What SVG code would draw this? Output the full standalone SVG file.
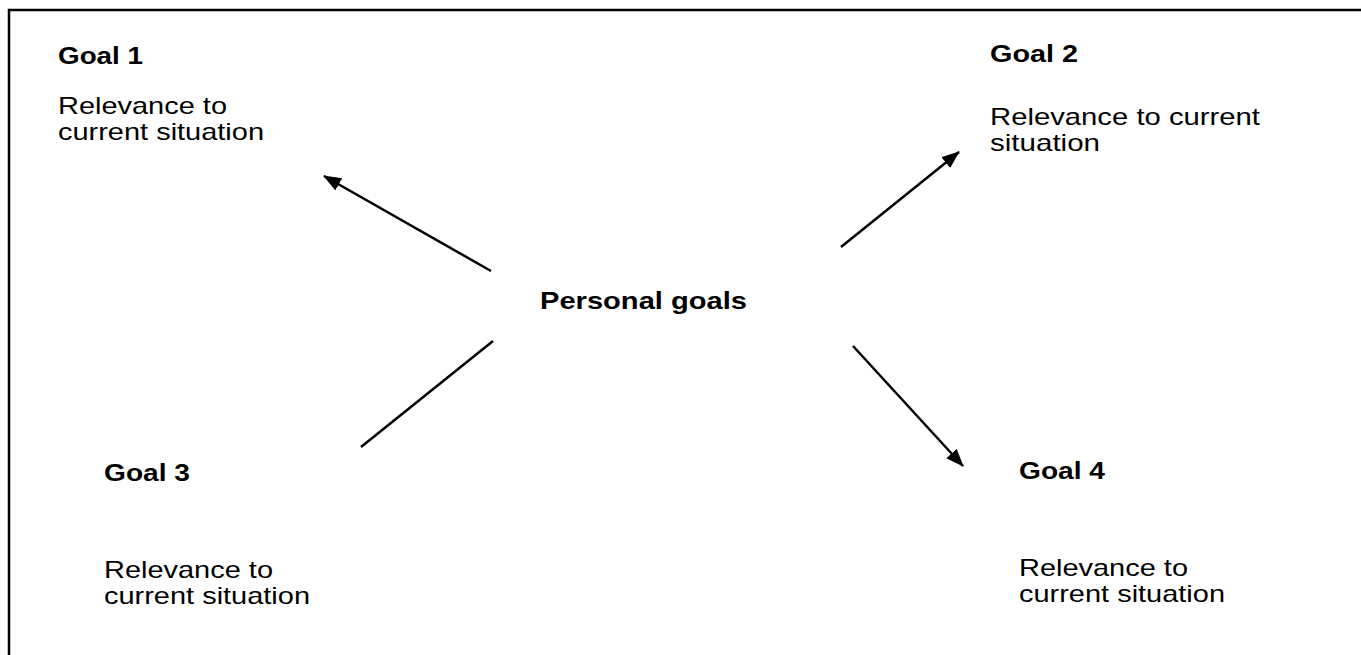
<svg xmlns="http://www.w3.org/2000/svg" width="1361" height="655" viewBox="0 0 1361 655">
<defs>
<style>
.t{font-family:"Liberation Sans",Arial,sans-serif;font-size:24px;fill:#000}
.b{font-weight:bold}
.c{stroke:#000;stroke-width:2.5;fill:none}
</style>
<marker id="ah" markerUnits="userSpaceOnUse" markerWidth="20" markerHeight="16" refX="17" refY="7" orient="auto" viewBox="0 0 20 16">
<path d="M0,0 L18,7 L0,14 z" fill="#000"/>
</marker>
</defs>
<rect width="1361" height="655" fill="#fff"/>
<g id="frame">
<path class="c" d="M9,655 L9,10 L1361,10"/>
</g>
<g id="center">
<text class="t b" x="540" y="309" textLength="207" lengthAdjust="spacingAndGlyphs">Personal goals</text>
</g>
<g id="goal1">
<text class="t b" x="58" y="64" textLength="85" lengthAdjust="spacingAndGlyphs">Goal 1</text>
<text class="t" x="58" y="114" textLength="169" lengthAdjust="spacingAndGlyphs">Relevance to</text>
<text class="t" x="58" y="140" textLength="206" lengthAdjust="spacingAndGlyphs">current situation</text>
</g>
<g id="goal2">
<text class="t b" x="990" y="62" textLength="88" lengthAdjust="spacingAndGlyphs">Goal 2</text>
<text class="t" x="990" y="125" textLength="270" lengthAdjust="spacingAndGlyphs">Relevance to current</text>
<text class="t" x="990" y="151" textLength="110" lengthAdjust="spacingAndGlyphs">situation</text>
</g>
<g id="goal3">
<text class="t b" x="104" y="481" textLength="86" lengthAdjust="spacingAndGlyphs">Goal 3</text>
<text class="t" x="104" y="578" textLength="169" lengthAdjust="spacingAndGlyphs">Relevance to</text>
<text class="t" x="104" y="604" textLength="206" lengthAdjust="spacingAndGlyphs">current situation</text>
</g>
<g id="goal4">
<text class="t b" x="1019" y="479" textLength="86" lengthAdjust="spacingAndGlyphs">Goal 4</text>
<text class="t" x="1019" y="576" textLength="169" lengthAdjust="spacingAndGlyphs">Relevance to</text>
<text class="t" x="1019" y="602" textLength="206" lengthAdjust="spacingAndGlyphs">current situation</text>
</g>
<g id="connectors">
<line class="c" x1="491" y1="271" x2="324" y2="176" marker-end="url(#ah)"/>
<line class="c" x1="841" y1="247" x2="959" y2="152" marker-end="url(#ah)"/>
<line class="c" x1="493" y1="341" x2="361" y2="447"/>
<line class="c" x1="853" y1="346" x2="963" y2="466" marker-end="url(#ah)"/>
</g>
</svg>
